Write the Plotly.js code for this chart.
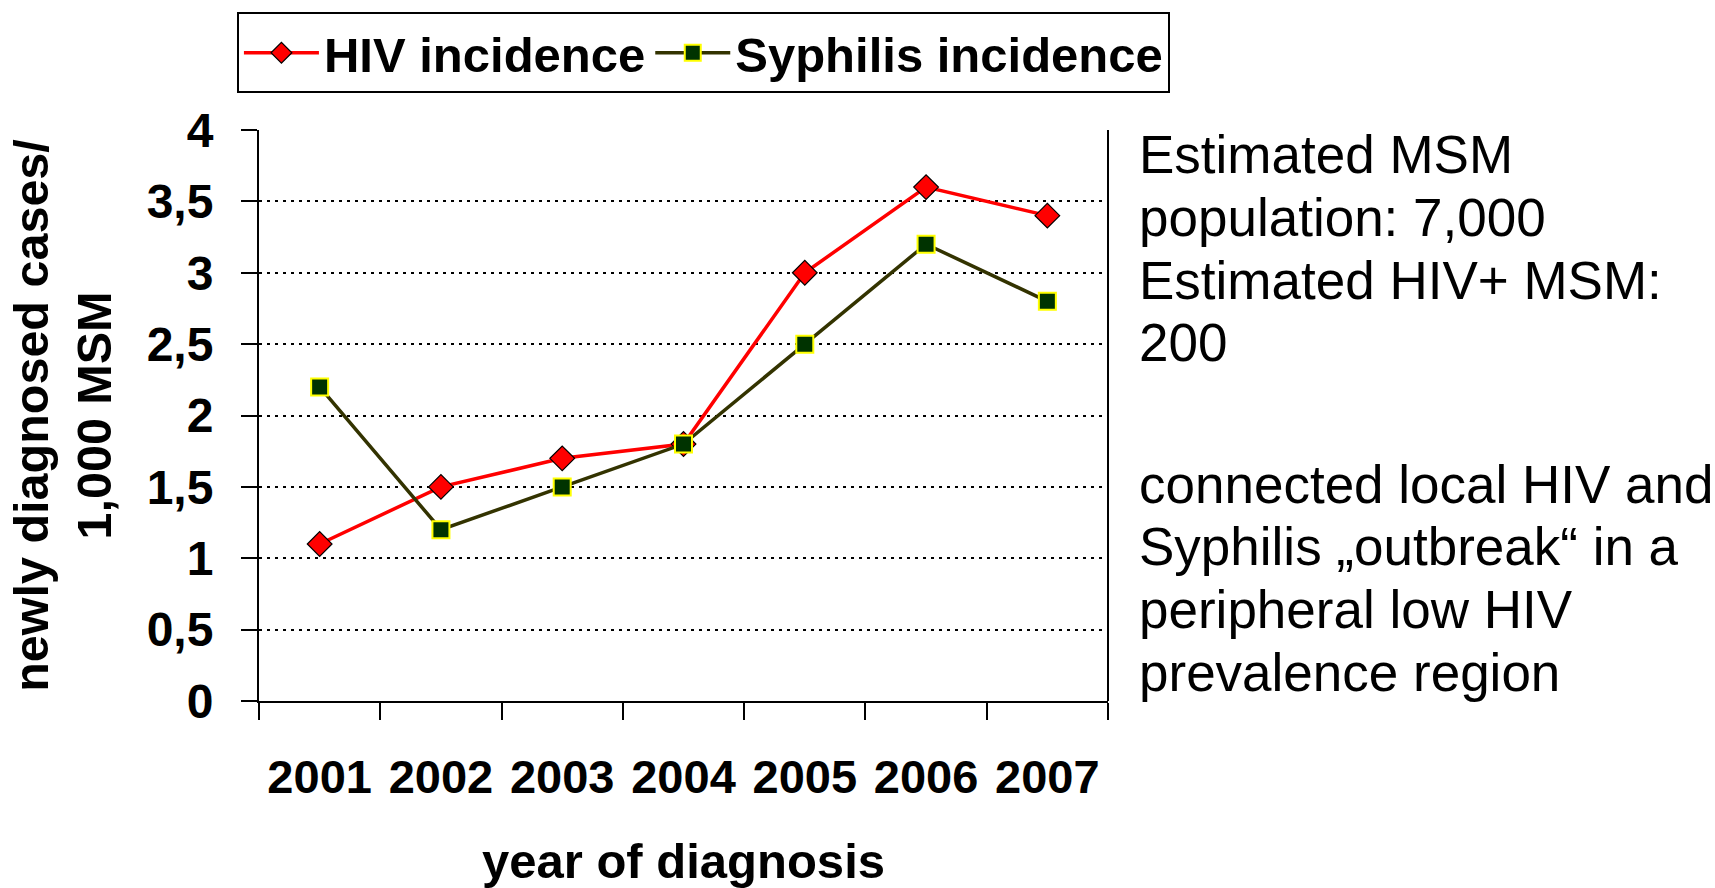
<!DOCTYPE html>
<html>
<head>
<meta charset="utf-8">
<script src="https://cdn.plot.ly/plotly-3.0.1.min.js"></script>
<style>html,body{margin:0;padding:0;background:#fff;}</style>
</head>
<body>
<div id="chart" style="width:1715px;height:888px;"></div>
<script>
const years = ["2001", "2002", "2003", "2004", "2005", "2006", "2007"];
const hivIncidence = [1.1, 1.5, 1.7, 1.8, 3.0, 3.6, 3.4];
const syphilisIncidence = [2.2, 1.2, 1.5, 1.8, 2.5, 3.2, 2.8];
const yTickValues = [0, 0.5, 1, 1.5, 2, 2.5, 3, 3.5, 4];
const noteLines = [
  "Estimated MSM", "population: 7,000", "Estimated HIV+ MSM:", "200",
  "connected local HIV and", "Syphilis \u201eoutbreak\u201c in a", "peripheral low HIV", "prevalence region"
];

const FONT = "Liberation Sans, Arial, Helvetica, sans-serif";

// plot area in pixels: top 128, bottom 701 (height 573)
const notePixelY = [153, 215.5, 279, 341, 483.5, 546, 609, 672];

const traces = [
  {
    x: years, y: hivIncidence, name: "HIV incidence", type: "scatter", mode: "lines+markers",
    line: {color: "#FF0000", width: 3.5},
    marker: {symbol: "diamond", size: 19, color: "#FF0000", line: {color: "#000000", width: 1.2}}
  },
  {
    x: years, y: syphilisIncidence, name: "Syphilis incidence", type: "scatter", mode: "lines+markers",
    line: {color: "#333300", width: 3.5},
    marker: {symbol: "square", size: 17, color: "#003300", line: {color: "#FFFF00", width: 2}}
  }
];

const annotations = noteLines.map((t, i) => ({
  xref: "paper", yref: "paper", x: 1.034, y: (701 - notePixelY[i]) / 573,
  xanchor: "left", yanchor: "middle", align: "left", showarrow: false,
  text: t, font: {family: FONT, size: 53, color: "#000000"}
}));

const layout = {
  width: 1715, height: 888,
  margin: {l: 259, r: 607, t: 128, b: 187},
  paper_bgcolor: "#ffffff", plot_bgcolor: "#ffffff",
  separators: ", ",
  font: {family: FONT, color: "#000000"},
  showlegend: true,
  legend: {
    orientation: "h",
    x: -0.026, xanchor: "left", y: 1.206, yanchor: "top",
    bordercolor: "#000000", borderwidth: 2, bgcolor: "#ffffff",
    font: {family: FONT, size: 49, weight: "bold", color: "#000000"},
    itemwidth: 75, traceorder: "normal"
  },
  xaxis: {
    type: "category", range: [-0.5, 6.5],
    showline: true, linecolor: "#000000", linewidth: 2,
    ticks: "outside", ticklen: 17, tickwidth: 2, tickcolor: "#000000",
    tickson: "boundaries",
    showgrid: false, zeroline: false,
    tickfont: {family: FONT, size: 47, weight: "bold", color: "#000000"},
    ticklabelstandoff: 34,
    title: {text: "year of diagnosis", font: {family: FONT, size: 49, weight: "bold", color: "#000000"}, standoff: 46},
    fixedrange: true
  },
  yaxis: {
    range: [0, 4], tickvals: yTickValues,
    showline: true, linecolor: "#000000", linewidth: 2,
    ticks: "outside", ticklen: 16, tickwidth: 2, tickcolor: "#000000",
    showgrid: true, gridcolor: "#000000", gridwidth: 2, griddash: "3px,5px",
    zeroline: false,
    tickfont: {family: FONT, size: 48, weight: "bold", color: "#000000"},
    ticklabelstandoff: 18,
    title: {text: "newly diagnosed cases/<br>1,000 MSM", font: {family: FONT, size: 48.5, weight: "bold", color: "#000000"}, standoff: 20},
    fixedrange: true
  },
  shapes: [
    {type: "line", xref: "paper", yref: "paper", x0: 1, x1: 1, y0: 0, y1: 1, line: {color: "#000000", width: 2}}
  ],
  annotations: annotations
};

Plotly.newPlot("chart", traces, layout, {displayModeBar: false, staticPlot: true});
</script>
</body>
</html>
